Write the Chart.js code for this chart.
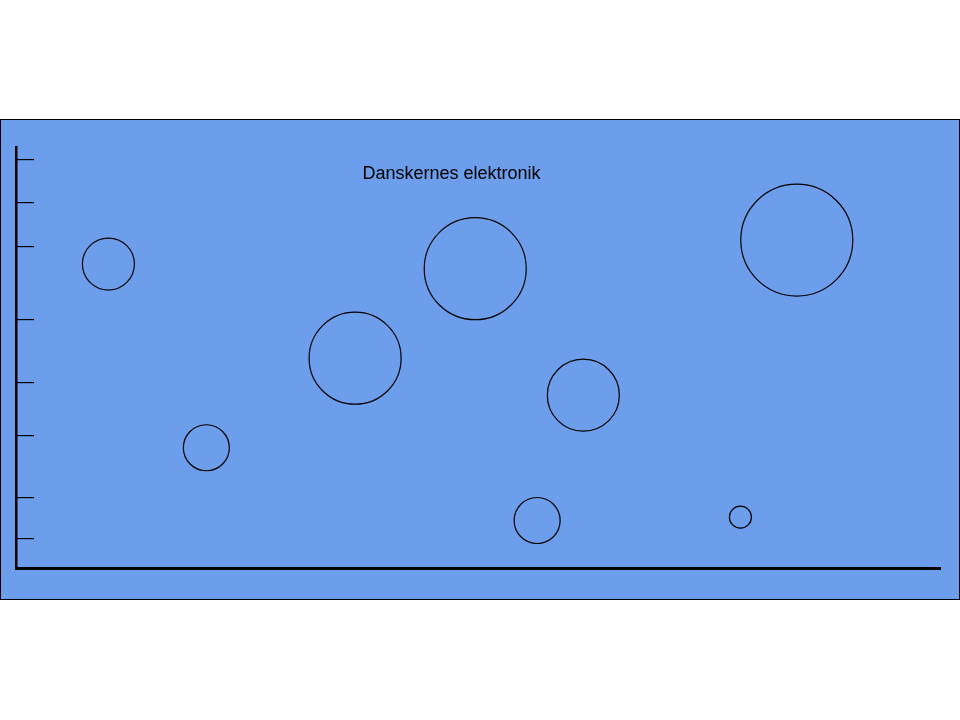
<!DOCTYPE html>
<html>
<head>
<meta charset="utf-8">
<script src="https://cdn.jsdelivr.net/npm/chart.js@4/dist/chart.umd.min.js"></script>
<style>
  html, body { margin: 0; padding: 0; background: #ffffff; }
  #wrap { width: 960px; height: 720px; position: relative; }
</style>
</head>
<body>
<div id="wrap"><canvas id="c" width="960" height="720"></canvas></div>
<script>
// ---- data ----
const titleText = "Danskernes elektronik";
const bubbleX = [10, 20.6, 36.7, 49.7, 61.4, 56.4, 78.4, 84.5];
const bubbleY = [72.3, 28.6, 49.9, 71.2, 41.1, 11.3, 12.1, 78.0];
const bubbleR = [26, 23, 46, 51, 36, 23, 11, 56];
const yTickValues = [7.1, 16.8, 31.4, 44.2, 59.1, 76.4, 87, 97.2];

const points = bubbleX.map((x, i) => ({ x: x, y: bubbleY[i], r: bubbleR[i] }));

const panelPlugin = {
  id: 'panel',
  beforeDraw(chart) {
    const ctx = chart.ctx;
    ctx.save();
    ctx.fillStyle = '#6d9eeb';
    ctx.fillRect(0, 119, 960, 481);
    ctx.strokeStyle = '#000000';
    ctx.lineWidth = 1;
    ctx.strokeRect(0.5, 119.5, 959, 480);
    ctx.restore();
  },
  afterLayout(chart) {
    const t = chart.titleBlock;
    if (t) {
      t.left = 0; t.right = 903;
      t.top = 163.4; t.bottom = 182.6;
      t.width = 903;
    }
  }
};

new Chart(document.getElementById('c'), {
  type: 'bubble',
  data: {
    datasets: [{
      data: points,
      backgroundColor: 'rgba(0,0,0,0)',
      borderColor: '#000000',
      borderWidth: 1.2,
      hoverBorderWidth: 1.2,
      clip: false
    }]
  },
  options: {
    responsive: false,
    animation: false,
    events: [],
    layout: { autoPadding: false, padding: { top: 126, left: 16, right: 20, bottom: 152 } },
    plugins: {
      legend: { display: false },
      tooltip: { enabled: false },
      title: {
        display: true,
        text: titleText,
        color: '#000000',
        font: { family: '"Liberation Sans", Arial, sans-serif', size: 18, weight: 'normal' },
        padding: 0
      }
    },
    scales: {
      x: {
        type: 'linear', min: 0, max: 100,
        grid: { display: false, drawTicks: false },
        ticks: { display: false },
        border: { display: true, color: '#000000', width: 3 },
        afterFit(s) { s.height = 0; }
      },
      y: {
        type: 'linear', min: 0, max: 100,
        afterBuildTicks(s) { s.ticks = yTickValues.map(v => ({ value: v })); },
        grid: { display: true, drawOnChartArea: false, drawTicks: true, tickLength: -18, color: '#000000', lineWidth: 1.2 },
        ticks: { display: false },
        border: { display: true, color: '#000000', width: 2.5 },
        afterFit(s) { s.width = 0; }
      }
    }
  },
  plugins: [panelPlugin]
});
</script>
</body>
</html>
